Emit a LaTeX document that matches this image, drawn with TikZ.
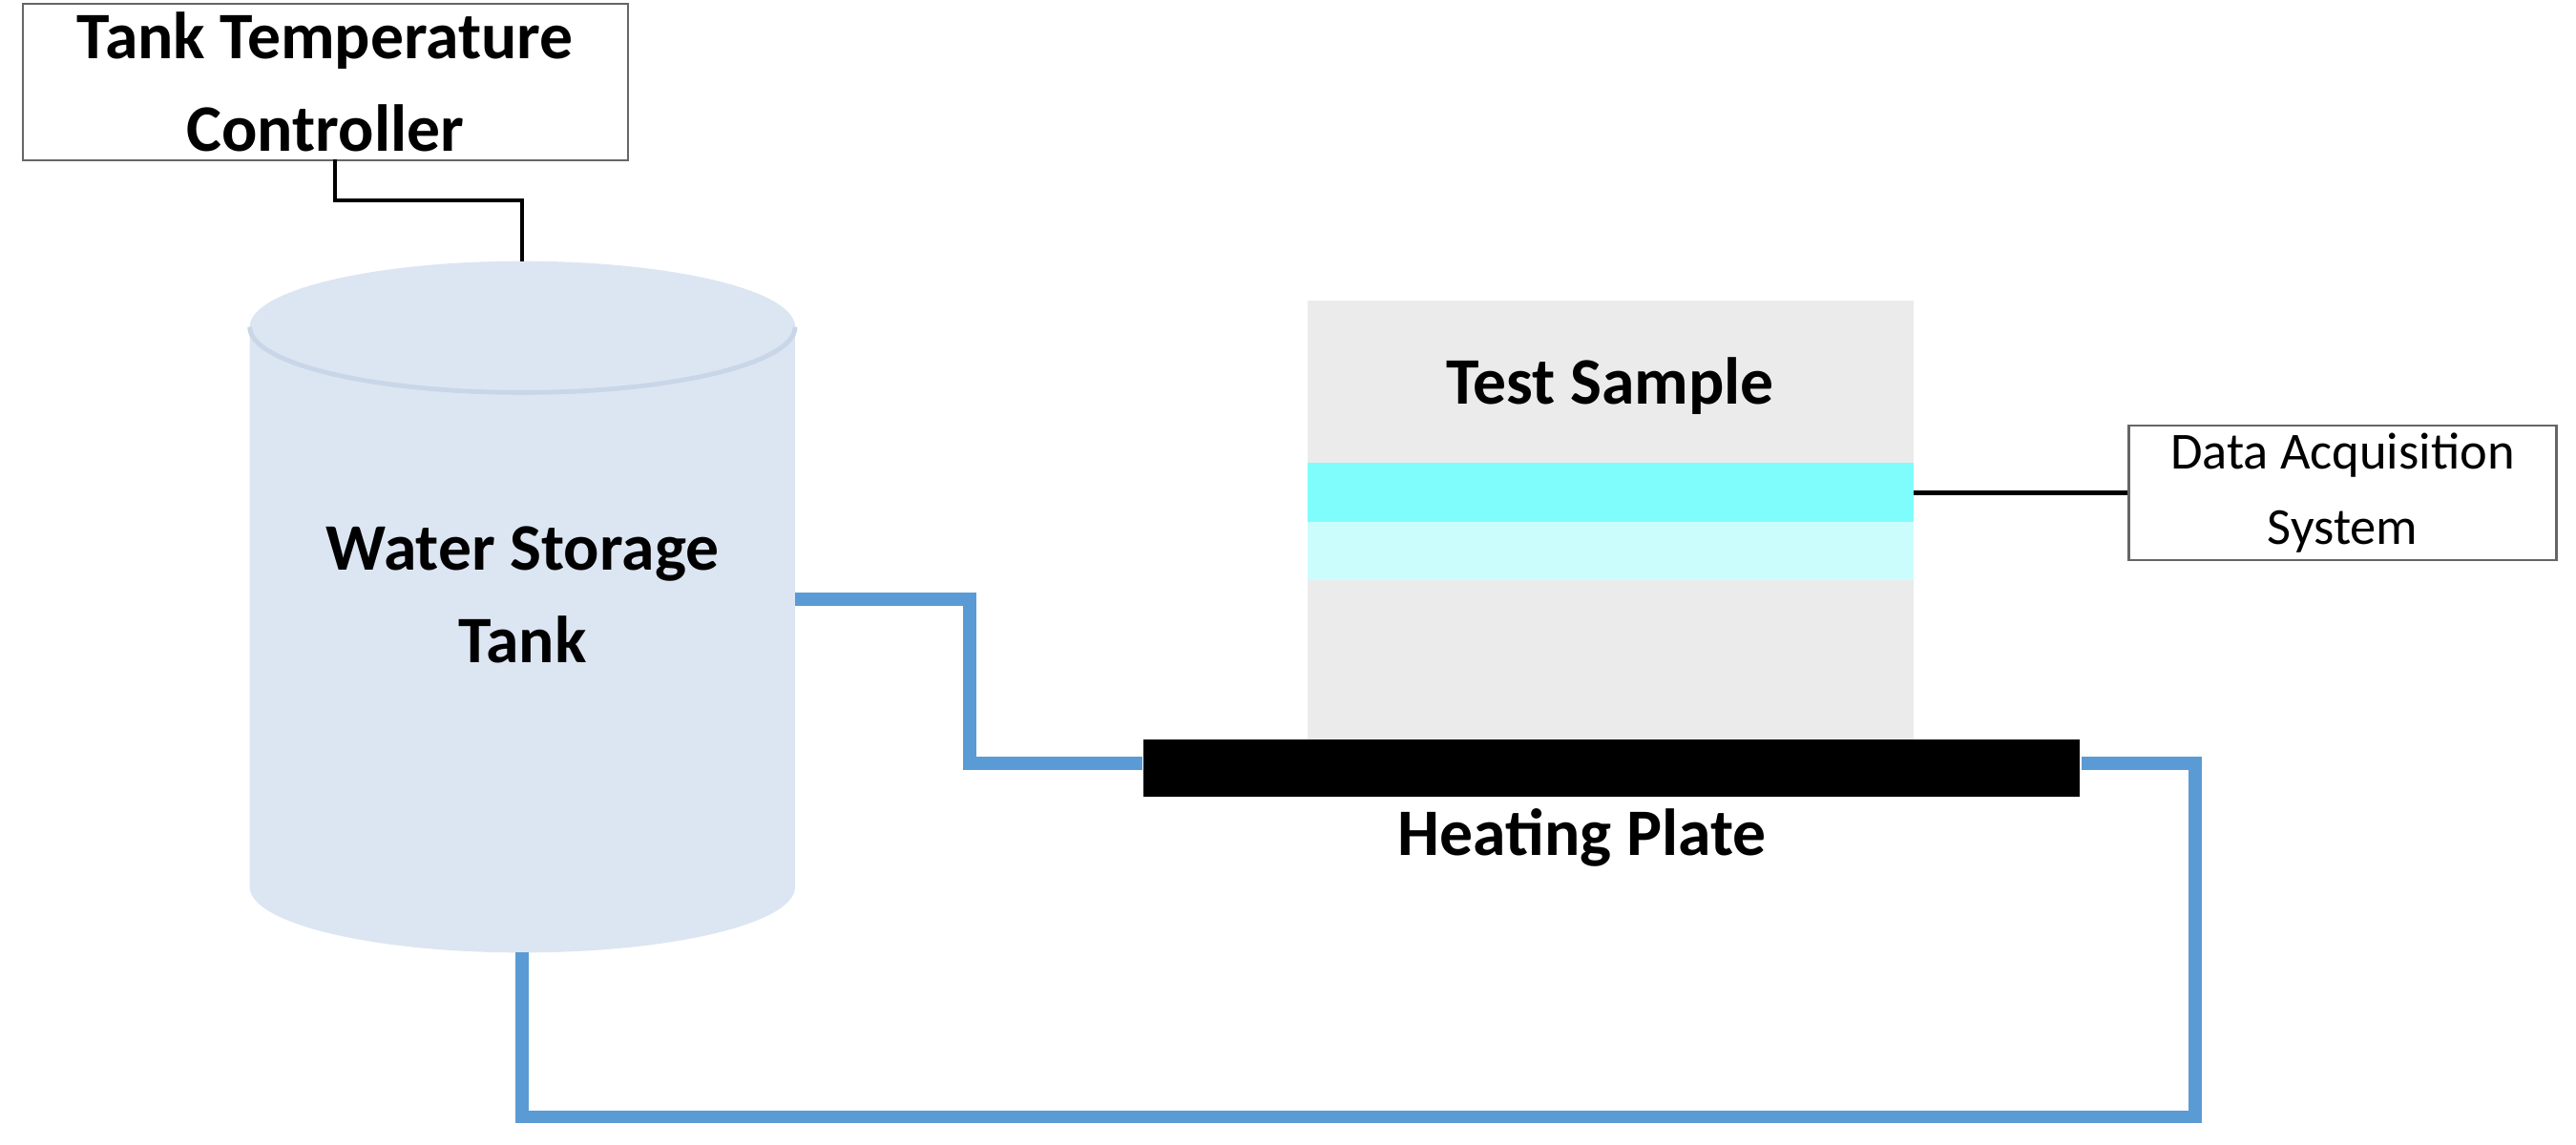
\documentclass[tikz,border=0pt]{standalone}
\usepackage{fontspec}
\setmainfont{Carlito}
\definecolor{tankfill}{HTML}{DCE6F2}
\definecolor{tankedge}{HTML}{C8D6E8}
\definecolor{pipe}{HTML}{5B9BD5}
\definecolor{sample}{HTML}{EBEBEB}
\definecolor{band1}{HTML}{7FFDFD}
\definecolor{band2}{HTML}{CCFDFD}
\begin{document}
\begin{tikzpicture}[x=0.01cm,y=-0.01cm,
  box/.style={draw=black!60,fill=white,line width=0.4pt,align=center,inner sep=0pt},
  pipeline/.style={draw=pipe,line width=2.3pt},
  wire/.style={draw=black,line width=0.7pt},
  lbl/.style={font=\bfseries\fontsize{11.5}{16}\selectfont,align=center}]
\useasboundingbox (0,0) rectangle (1568,697);
% tank
\fill[tankfill] (152,199) -- (152,540) arc[start angle=180,end angle=0,x radius=166,y radius=40] -- (484,199) arc[start angle=0,end angle=-180,x radius=166,y radius=40];
\draw[tankedge,line width=0.8pt] (152,199) arc[start angle=180,end angle=0,x radius=166,y radius=40];
\coordinate (tanktop) at (318,159);
\coordinate (tankright) at (484,365);
\coordinate (tankbot) at (318,580);
\node[lbl] (tanklbl) at (318,362) {Water Storage\\Tank};
% controller
\node[box,minimum width=3.68cm,minimum height=0.95cm,font=\bfseries\fontsize{11.5}{16}\selectfont] (ctrl) at (198,50) {Tank Temperature\\Controller};
\coordinate (c1) at (204,122);
\draw[wire] (204,97) -- (c1) -| (tanktop);
% sample
\fill[sample] (796,183) rectangle (1165,450);
\fill[band1] (796,282) rectangle (1165,318);
\fill[band2] (796,318) rectangle (1165,353);
\node[lbl] (ts) at (980,235) {Test Sample};
\coordinate (bandR) at (1165,300);
\node[box,minimum width=2.6cm,minimum height=0.82cm,font=\fontsize{9}{13}\selectfont] (daq) at (1426,300) {Data Acquisition\\System};
\draw[wire] (bandR) -- (bandR -| daq.west);
% plate
\node[fill=black,minimum width=5.7cm,minimum height=0.35cm,inner sep=0pt] (plate) at (981,467.5) {};
\node[lbl] (hp) at (963,510) {Heating Plate};
% pipes
\coordinate (p1) at (590,365);
\coordinate (p2) at (590,465);
\coordinate (p3) at (1336,465);
\coordinate (p4) at (1336,680);
\coordinate (p5) at (318,680);
\draw[pipeline] (tankright) -- (p1) -- (p2) -- (plate.west |- p2);
\draw[pipeline] (plate.east |- p3) -- (p3) -- (p4) -- (p5) -- (tankbot);
\end{tikzpicture}
\end{document}
